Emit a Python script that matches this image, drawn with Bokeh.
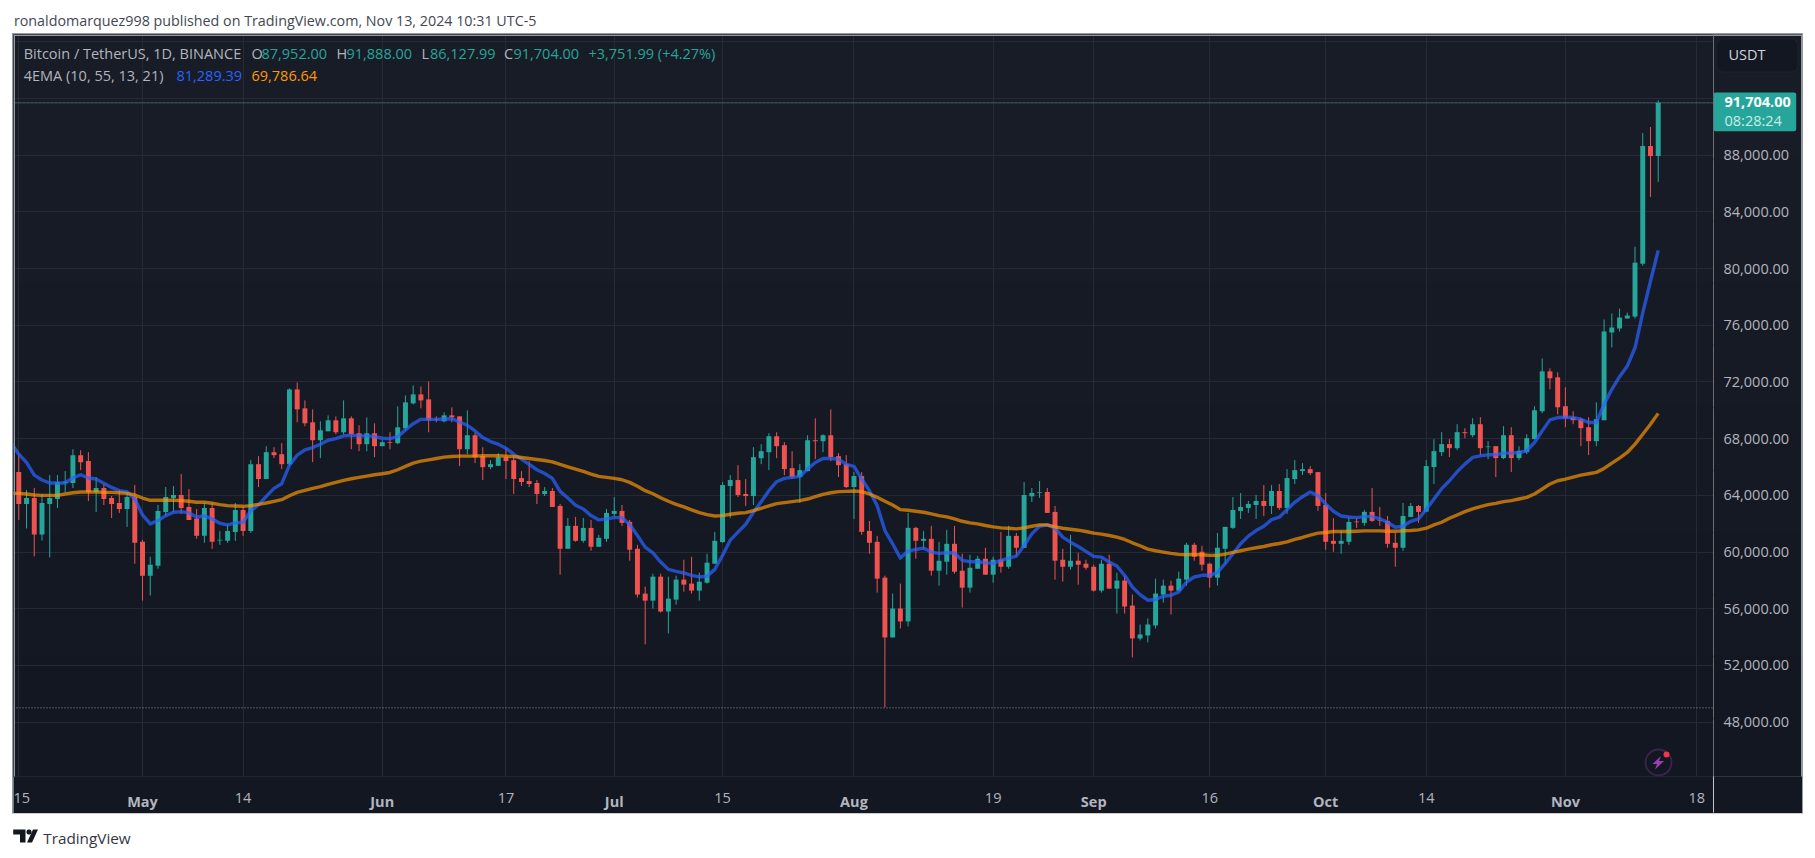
from bokeh.plotting import figure
from bokeh.embed import file_html
from bokeh.resources import INLINE
from bokeh.layouts import column, row
from bokeh.core.properties import value
from bokeh.models import (ColumnDataSource, Range1d, LinearAxis, FixedTicker,
                          BoxAnnotation, Label, PolyAnnotation, Grid, Span)

# ---------------- data (days counted from 15 Apr 2024) ----------------
opens = [65640,63390,63810,61235,63390,63740,64870,64870,66835,66415,
64235,64515,63810,63460,63040,63880,60720,58330,59035,62830,
63810,64025,63180,62360,61140,63110,60815,60790,61420,62970,
61490,66200,65150,67045,66905,66200,71475,70140,69155,67890,
68520,69295,68450,69435,68380,67610,68380,67470,67750,67680,
68730,70490,71125,70770,69365,69225,69645,69575,67255,68240,
66765,65990,66085,66695,66485,65220,65010,64870,64095,64305,
63250,60230,61845,60790,61700,60370,60930,62690,62900,62125,
60230,57065,56570,58260,55800,56640,58050,57770,57275,57835,
59175,60700,64655,65080,64095,63950,66625,67045,68170,67540,
65920,65290,65710,67890,67820,68240,66765,66200,64585,65360,
61490,60720,58190,53970,56010,55100,61705,60790,60930,58680,
59315,60580,58680,57485,58820,59525,58400,59455,58960,61140,
60300,63930,64185,64235,62830,59455,58960,59385,59175,58960,
57275,59175,57415,57980,56220,53900,54110,54815,56995,57625,
57275,58050,60510,60020,59175,58190,60230,61705,62900,63110,
63320,63600,63250,64305,63110,65150,65710,65850,65640,63320,
60790,60580,60720,62150,62055,62830,62240,62195,60650,60300,
62475,63250,62850,65995,67050,67615,67330,68460,68245,69020,
67400,67470,66630,68245,66630,67050,67965,69935,72750,72330,
70290,69515,69375,68810,67825,69300,75495,75775,76480,76620,
80350,88655,87952]
closes = [63390,63810,61235,63460,63810,64940,64960,66835,66340,64235,
64515,63740,63390,63040,63880,60650,58330,59100,62900,63880,
64025,63110,62265,61140,63110,60720,60860,61490,62970,61490,
66200,65150,67045,66835,66200,71475,70070,69085,67890,68590,
69295,68450,69435,68310,67610,68380,67470,67750,67700,68800,
70560,71125,70700,69295,69320,69645,69505,67255,68240,66695,
65990,66200,66695,66415,65150,64940,64800,64095,64305,63180,
60230,61845,60790,61700,60370,61000,62760,62900,62055,60160,
56995,56570,58260,55800,56710,58050,57700,57275,57905,59245,
60790,64725,65080,64025,63950,66695,67115,68170,67470,65850,
65290,65780,67890,67820,68240,66695,66130,64585,65360,61420,
60650,58120,53970,56010,55100,61705,60790,60930,58680,59385,
60580,58610,57485,58890,59525,58400,59455,58960,61140,60300,
64025,64165,64235,62760,59385,58960,59385,59105,58890,57275,
59175,57415,57980,56150,53900,54180,54885,57065,57625,57275,
58120,60510,59665,59105,58190,60300,61775,62970,63180,63390,
63600,63250,64305,63110,65220,65780,65850,65570,63250,60720,
60580,60790,62125,62100,62830,62195,62195,60580,60300,62545,
63250,62830,66065,67120,67615,67330,68460,68390,69020,67330,
67450,66630,68245,66630,67145,68035,70005,72750,72260,70215,
69445,69300,68740,67825,69375,75565,75845,76550,76690,80420,
88655,87952,91704]
highs = [66900,64375,64515,64090,65430,65430,65710,67255,67185,67045,
65290,64800,63950,64375,64235,64725,60860,59665,63320,64585,
64655,65500,64445,63040,63460,63460,61490,61915,63460,63180,
66485,66765,67470,67400,67680,71545,71965,70700,70070,69225,
69645,69575,70700,69575,68945,69505,69085,67890,68450,70280,
71050,71755,71685,72035,69575,69855,70210,69575,70000,68430,
67400,66485,66975,67330,66765,65710,66415,65080,64585,64515,
63390,62405,62475,62405,62265,61210,63040,63880,63320,62265,
60510,57555,58470,58470,58260,58330,59455,59665,58540,59875,
61420,64935,65430,66130,65150,67400,67610,68380,68450,67750,
67115,66200,68240,69435,68310,70070,66975,66835,65640,65640,
62195,61140,58330,57065,57770,62760,61775,61490,61845,60720,
61565,61845,59875,59805,59735,60300,59665,61420,61845,61350,
64935,64515,65010,64515,63250,60230,61210,59945,59455,59105,
59455,59805,58540,58330,56995,54885,55310,58120,58050,57980,
58610,60650,60650,60440,59245,61350,61775,63880,64165,63600,
64025,64725,64725,64795,65850,66485,66275,66060,65640,64165,
62385,61490,62475,62385,62970,64515,63180,62545,61350,63460,
63460,63320,66485,67965,68460,67965,69020,68740,69445,69515,
67825,67470,68880,68810,67470,68315,70290,73665,72960,72680,
71625,69935,69480,69515,70570,76410,76830,77185,76900,81550,
89570,90000,91888]
lows = [62270,61660,59690,60810,59620,63110,64210,64515,65780,63600,
62830,63320,62400,62760,61770,59170,56570,56925,58820,62545,
62830,62690,62265,60930,60650,60230,60510,60650,60790,61140,
61350,64585,65150,66625,65850,66060,69155,68875,66345,66625,
68520,68310,68310,67255,67115,67115,66695,67470,67255,67610,
68590,70420,70140,68450,69155,69155,69155,66060,66905,66275,
65080,65850,66060,65150,64095,64655,64585,63390,63950,63180,
58400,60230,60720,60650,60090,60370,60720,62475,61845,59385,
56785,53480,56010,55730,54255,56290,57205,57065,56570,57770,
59175,60650,62405,63880,63250,63320,66200,65780,66625,65430,
65150,63460,65710,66555,67045,66415,65290,64510,62335,61210,
59875,57135,49050,53970,54605,54745,59525,60230,58330,57625,
58400,58470,56080,57135,58820,58400,57835,58540,58820,59735,
60300,63530,63810,62760,58050,57910,58750,57695,58750,57205,
57135,57415,55660,55660,52565,53760,53620,54605,56430,55590,
57275,57625,59385,58680,57485,57625,59175,61635,62335,62760,
62335,62545,62690,62970,62690,64800,65430,65430,62900,60160,
60015,59875,60510,61705,61845,62125,61845,60300,58960,60090,
62475,62055,62850,64800,66770,66700,67190,68035,68105,66840,
66555,65290,66555,65640,66485,66910,67965,69795,71485,69725,
68810,69020,67470,66840,67470,69300,74440,75565,76480,76480,
80210,85065,86128]
ema_fast = [67700,
66905,66320,65430,65080,64870,64870,64870,65240,65450,65220,
65150,64845,64560,64330,64260,63740,62620,61985,62220,62570,
62805,62850,62760,62475,62545,62335,62030,61915,62055,62100,
62920,63320,63930,64490,64820,66130,66835,67210,67375,67610,
67890,68005,68195,68240,68195,68195,68145,68030,68005,68145,
68615,69060,69365,69365,69365,69390,69410,69180,68945,68545,
68075,67795,67610,67330,66905,66555,66180,65805,65545,65195,
64280,63810,63300,63040,62570,62265,62335,62430,62430,61940,
61165,60345,59945,59290,58775,58635,58520,58355,58240,58285,
58775,59760,60835,61400,61960,62805,63555,64330,64960,65195,
65265,65335,65850,66320,66600,66600,66555,66180,66040,65150,
64330,63275,61515,60580,59570,60065,60180,60275,59995,59900,
59945,59925,59410,59315,59315,59245,59195,59410,59570,59710,
60460,61280,61820,61915,61680,61050,60695,60390,60040,59690,
59640,59290,59010,58355,57535,56995,56600,56645,56880,56950,
57180,57885,58235,58355,58355,58540,59175,59875,60580,61120,
61515,61820,62290,62455,62990,63510,63905,64235,63980,63390,
62875,62545,62475,62430,62500,62500,62335,62100,61750,61820,
62170,62335,63000,63750,64470,65030,65665,66205,66675,66790,
66860,66860,66980,66980,67025,67145,67730,68550,69325,69490,
69515,69490,69370,69140,69140,70430,71485,72375,73125,74415,
76880,79110,81289]
ema_slow = [64140,
64140,64095,64025,64000,64000,64000,64095,64185,64235,64235,
64235,64210,64210,64185,64140,64025,63810,63650,63650,63650,
63650,63625,63580,63510,63510,63440,63345,63275,63250,63225,
63275,63365,63460,63580,63695,63975,64210,64350,64490,64610,
64775,64915,65055,65170,65265,65360,65455,65525,65615,65805,
66040,66275,66415,66505,66600,66695,66740,66765,66765,66765,
66790,66790,66790,66765,66740,66670,66600,66530,66460,66365,
66180,66015,65850,65685,65500,65335,65265,65195,65100,64915,
64635,64330,64115,63835,63580,63365,63180,62970,62780,62640,
62545,62570,62665,62735,62780,62920,63085,63250,63415,63485,
63555,63625,63740,63905,64070,64185,64260,64280,64305,64260,
64095,63860,63580,63320,62990,62945,62875,62805,62690,62570,
62475,62335,62170,62055,61985,61870,61775,61705,61680,61635,
61705,61820,61915,61915,61775,61680,61610,61540,61445,61330,
61260,61165,61050,60885,60650,60440,60205,60090,59995,59900,
59830,59805,59830,59805,59760,59760,59855,59970,60090,60205,
60300,60390,60510,60600,60720,60885,61025,61190,61330,61375,
61445,61445,61445,61470,61495,61495,61495,61470,61470,61495,
61515,61565,61680,61915,62100,62380,62615,62850,63040,63200,
63345,63435,63555,63625,63740,63860,64095,64445,64800,65030,
65150,65290,65430,65525,65620,65900,66275,66630,67025,67615,
68315,69020,69786]

candle_days = list(range(len(opens)))
ema_days = list(range(-1, len(opens)))
assert len(opens) == len(closes) == len(highs) == len(lows) == 213
assert len(ema_fast) == len(ema_slow) == 214

month_ticks = [16, 47, 77, 108, 139, 169, 200]
month_labels = ["May", "Jun", "Jul", "Aug", "Sep", "Oct", "Nov"]
day_ticks = [0, 29, 63, 91, 126, 154, 182, 217]
day_labels = ["15", "14", "17", "15", "19", "16", "14", "18"]
price_ticks = [48000, 52000, 56000, 60000, 64000, 68000, 72000, 76000, 80000, 84000, 88000]
price_labels = [f"{v:,.2f}" for v in price_ticks]
grid_prices = price_ticks + [92000, 96000]

UP, DOWN = "#26a69a", "#ef5350"
TEXT = "#b2b5be"
EDGE = "#9598a1"
SEPARATOR = "#2f333e"
FONT = "Open Sans"

colors = [UP if c >= o else DOWN for o, c in zip(opens, closes)]
src = ColumnDataSource(dict(d=candle_days, o=opens, h=highs, l=lows, c=closes, col=colors))

PANE_L, PANE_T, PANE_R, PANE_B = 13, 34, 1802, 813
SCALE_L, TIME_T = 1713, 779
Y_TOP, Y_FRAME_BOTTOM = 96527, 44155
BOTTOM_FILL = "#131722"


def strip(width, height, fill="#ffffff"):
    return figure(width=width, height=height, output_backend="svg", toolbar_location=None, tools="",
                  x_range=Range1d(0, width), y_range=Range1d(0, height), x_axis_type=None, y_axis_type=None,
                  min_border=0, background_fill_color=fill, border_fill_color=fill, outline_line_color=None)


head = strip(1815, PANE_T)
foot = strip(1815, 44)

p = figure(width=SCALE_L - PANE_L, height=PANE_B - PANE_T, output_backend="svg", toolbar_location=None, tools="",
           x_range=Range1d(-0.685, 219.15), y_range=Range1d(Y_FRAME_BOTTOM, Y_TOP),
           min_border_left=0, min_border_right=0, min_border_top=0, min_border_bottom=PANE_B - TIME_T,
           x_axis_type=None, y_axis_type=None,
           background_fill_color=BOTTOM_FILL, border_fill_color=BOTTOM_FILL,
           outline_line_color=SEPARATOR)

# price scale: its own pane, its frame lines up with the chart's frame and shares its price range
scale = figure(width=PANE_R - SCALE_L, height=PANE_B - PANE_T, output_backend="svg", toolbar_location=None, tools="",
               x_range=Range1d(0, PANE_R - SCALE_L), y_range=Range1d(Y_FRAME_BOTTOM, Y_TOP),
               x_axis_type=None, y_axis_type=None,
               min_border_left=0, min_border_right=0, min_border_top=0, min_border_bottom=PANE_B - TIME_T,
               background_fill_color=BOTTOM_FILL, border_fill_color=BOTTOM_FILL, outline_line_color=None)


def box(fig, ox, oy, l, t, r, b, **kw):
    kw.setdefault("level", "guide")
    kw.setdefault("line_color", None)
    fig.add_layout(BoxAnnotation(left=l - ox, right=r - ox, top=t - oy, bottom=b - oy, left_units="canvas",
                                 right_units="canvas", top_units="canvas", bottom_units="canvas",
                                 editable=False, **kw))


def mbox(l, t, r, b, **kw):
    box(p, PANE_L, PANE_T, l, t, r, b, **kw)


def sbox(l, t, r, b, **kw):
    box(scale, SCALE_L, PANE_T, l, t, r, b, **kw)


# panes with their soft vertical gradient
top_rgb, bot_rgb = (24, 28, 39), (19, 23, 34)
bands = 12
for i in range(bands):
    f = i / (bands - 1)
    col = "#%02x%02x%02x" % tuple(round(a + (b - a) * f) for a, b in zip(top_rgb, bot_rgb))
    t = PANE_T + round(i * (TIME_T - PANE_T) / bands)
    b = PANE_T + round((i + 1) * (TIME_T - PANE_T) / bands) + 2
    mbox(PANE_L, t, SCALE_L, b, fill_color=col, fill_alpha=1, level="image")
    sbox(SCALE_L, t, PANE_R, b, fill_color=col, fill_alpha=1, level="image")

# grid
for g_ticks, dim in ((month_ticks + day_ticks, 0), (grid_prices, 1)):
    p.add_layout(Grid(dimension=dim, ticker=FixedTicker(ticks=g_ticks),
                      grid_line_color="#262a35", grid_line_width=1))


def xaxis(ticks, labels, style, standoff):
    a = LinearAxis(ticker=FixedTicker(ticks=ticks), major_label_overrides=dict(zip(ticks, labels)),
                   axis_line_color=None, major_tick_line_color=None, minor_tick_line_color=None,
                   major_label_standoff=standoff, major_label_text_color=TEXT,
                   major_label_text_font=FONT, major_label_text_font_size="14.5px",
                   major_label_text_font_style=style)
    p.add_layout(a, "below")


xaxis(month_ticks, month_labels, "bold", 9)
xaxis(day_ticks, day_labels, "normal", -27)

# candles
p.segment("d", "h", "d", "l", source=src, color="col", line_width=1)
p.vbar("d", 0.64, "o", "c", source=src, fill_color="col", line_color=None)

# EMA lines
p.line(ema_days, ema_fast, line_color="#2962ff", line_alpha=0.72, line_width=3.4, line_join="round")
p.line(ema_days, ema_slow, line_color="#ff9800", line_alpha=0.68, line_width=3.4, line_join="round")

# price lines
p.add_layout(Span(location=closes[-1], dimension="width", line_color=UP, line_dash="1 3", line_width=1))
p.add_layout(Span(location=closes[-1], dimension="width", line_color=EDGE, line_dash="1 3", line_dash_offset=2, line_width=1))
p.add_layout(Span(location=min(lows) - 50, dimension="width", line_color=EDGE, line_dash="1 2", line_width=1))

# price scale labels
scale.text(x=[1723 - SCALE_L] * len(price_ticks), y=price_ticks, text=price_labels, text_color=TEXT,
           text_font=value(FONT), text_font_size="14.5px", text_baseline="middle", text_align="left")

# scale furniture: dividers, pane edges, USDT box, price tag
sbox(SCALE_L, TIME_T, SCALE_L + 1, PANE_B, fill_color=SEPARATOR, fill_alpha=1)
sbox(SCALE_L, TIME_T, PANE_R, TIME_T + 1, fill_color=SEPARATOR, fill_alpha=1)
sbox(PANE_R - 1.5, PANE_T, PANE_R, PANE_B, fill_color=EDGE, fill_alpha=1)
sbox(SCALE_L, PANE_T, PANE_R, PANE_T + 1.5, fill_color=EDGE, fill_alpha=1)
sbox(SCALE_L, PANE_B - 1.5, PANE_R, PANE_B, fill_color=EDGE, fill_alpha=1)
mbox(PANE_L, PANE_T, SCALE_L, PANE_T + 1.5, fill_color=EDGE, fill_alpha=1)
mbox(PANE_L, PANE_T, PANE_L + 1.5, TIME_T, fill_color=EDGE, fill_alpha=1)
sbox(1716, 38.5, 1797.5, 71.5, fill_color=BOTTOM_FILL, fill_alpha=1, line_color="#2a2e39",
     line_width=1.5, border_radius=7)
sbox(SCALE_L, 92, 1795.7, 130.7, fill_color=UP, fill_alpha=1, border_radius=2)


def text(fig, ox, oy, x, y, s, color, size="14.5px", style="normal", font=FONT):
    fig.add_layout(Label(x=x - ox, y=y - oy, x_units="canvas", y_units="canvas", text=s, text_color=color,
                         text_font=font, text_font_size=size, text_font_style=style,
                         text_baseline="middle", text_align="left", level="guide"))


def mtext(*a, **k):
    text(p, PANE_L, PANE_T, *a, **k)


text(scale, SCALE_L, PANE_T, 1728, 54, "USDT", "#d1d4dc")
text(scale, SCALE_L, PANE_T, 1724, 101.7, "91,704.00", "#ffffff", style="bold")
text(scale, SCALE_L, PANE_T, 1724, 120, "08:28:24", "#c9ece8")

# header text
text(head, 0, 0, 13.4, 20, "ronaldomarquez998 published on TradingView.com, Nov 13, 2024 10:31 UTC-5", "#444752", "14.3px")
mtext(23.2, 53.3, "Bitcoin / TetherUS, 1D, BINANCE", TEXT)
for x, s, c in [(251, "O", TEXT), (261, "87,952.00", UP), (336, "H", TEXT), (346, "91,888.00", UP),
                (421, "L", TEXT), (429.5, "86,127.99", UP), (503.6, "C", TEXT), (513, "91,704.00", UP),
                (588, "+3,751.99 (+4.27%)", UP)]:
    mtext(x, 53.3, s, c)
mtext(23.2, 75.3, "4EMA (10, 55, 13, 21)", TEXT)
mtext(176, 75.3, "81,289.39", "#2962ff")
mtext(251, 75.3, "69,786.64", "#ff9800")

# news icon
mbox(1645, 749, 1671, 775, fill_color=None, line_color="#9c3fb5", line_width=1.8, border_radius=13)
mbox(1663, 751, 1669, 757, fill_color="#f23645", fill_alpha=1, border_radius=3)


def poly(fig, ox, oy, xs, ys, color):
    fig.add_layout(PolyAnnotation(xs=[v - ox for v in xs], ys=[v - oy for v in ys], xs_units="canvas",
                                  ys_units="canvas", fill_color=color, fill_alpha=1, line_color=None,
                                  level="guide", editable=False))


poly(p, PANE_L, PANE_T, [1660.5, 1652, 1656.5, 1654.5, 1663.5, 1658.5], [755.5, 763.5, 763.5, 769, 760.5, 760.5], "#9c3fb5")

# TradingView logo
fo = PANE_B
poly(foot, 0, fo, [12.7, 25, 25, 19.5, 19.5, 12.7], [829, 829, 842, 842, 834, 834], "#131722")
box(foot, 0, fo, 26, 829, 31, 834, fill_color="#131722", fill_alpha=1, border_radius=2)
poly(foot, 0, fo, [32.5, 37.5, 31.5, 26.5], [829, 829, 842, 842], "#131722")
text(foot, 0, fo, 42.7, 837, "TradingView", "#333640", "15.3px")

chart_row = row(p, scale, spacing=0, margin=(0, 0, 0, PANE_L), width=PANE_R - PANE_L, height=PANE_B - PANE_T,
                styles={"outline": f"2px solid {EDGE}", "outline-offset": "-1px"})
page = column(head, chart_row, foot, spacing=0)
open("out.html", "w").write(file_html(page, INLINE))
